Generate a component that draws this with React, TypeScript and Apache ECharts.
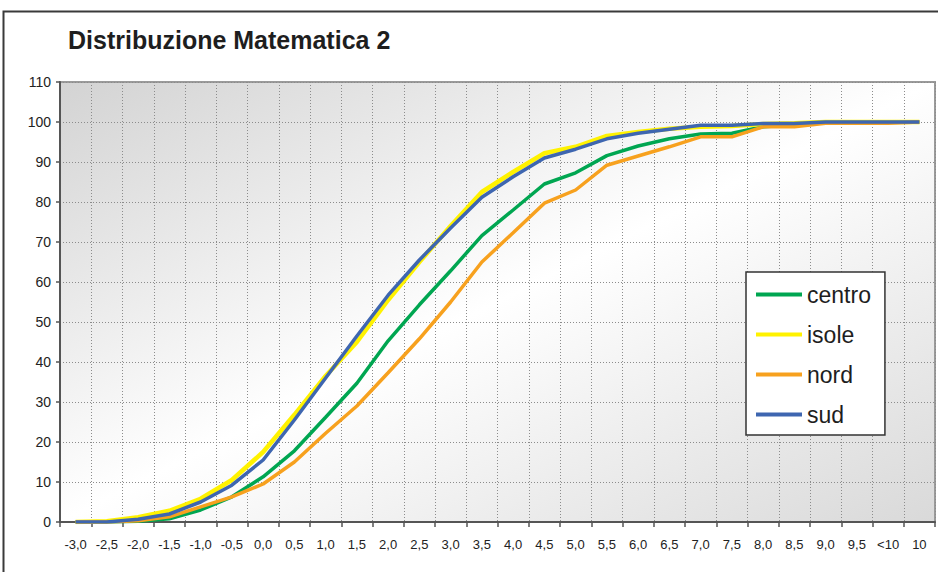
import React, { useEffect, useRef } from "react";
import * as echarts from "echarts";

const categories = ["-3,0","-2,5","-2,0","-1,5","-1,0","-0,5","0,0","0,5","1,0","1,5","2,0","2,5","3,0","3,5","4,0","4,5","5,0","5,5","6,0","6,5","7,0","7,5","8,0","8,5","9,0","9,5","<10","10"];

const centro = [0, 0, 0.2, 0.8, 3, 6.3, 11.3, 17.8, 26.2, 34.7, 45.3, 54.3, 62.8, 71.6, 78, 84.5, 87.3, 91.6, 94, 95.8, 97, 97.2, 98.8, 99.3, 99.8, 100, 100, 100];
const isole = [0, 0.2, 1.2, 2.8, 5.8, 10.5, 17.5, 26.8, 36.5, 45, 55.5, 65, 74, 82.5, 87.5, 92.2, 93.8, 96.5, 97.5, 98.3, 98.8, 99, 99.5, 99.7, 100, 100, 100, 100];
const nord = [0, 0, 0.3, 1.3, 3.8, 6.3, 9.5, 15, 22.2, 29, 37.3, 45.8, 55, 65, 72.3, 79.7, 83, 89.2, 91.5, 93.8, 96.3, 96.3, 98.8, 98.8, 99.7, 99.7, 99.7, 100];
const sud = [0, 0, 0.7, 2, 5, 9.2, 15.5, 25.5, 36, 46.5, 56.7, 65.5, 73.5, 81.2, 86.3, 91, 93.2, 95.8, 97.2, 98.2, 99.2, 99.2, 99.6, 99.6, 100, 100, 100, 100];

const seriesNames = ["centro", "isole", "nord", "sud"];
const seriesData = [centro, isole, nord, sud];
const seriesColors = ["#00A651", "#FFF200", "#F7A11E", "#3E66B0"];
const seriesWidths = [3.5, 4.5, 3.5, 3.5];

const FONT = "'Liberation Sans', Arial, sans-serif";

export default function App() {
  const ref = useRef<HTMLDivElement>(null);
  useEffect(() => {
    if (!ref.current) return;
    const chart = echarts.init(ref.current, undefined, { renderer: "svg" });
    chart.setOption({
      animation: false,
      backgroundColor: "#ffffff",
      textStyle: { fontFamily: FONT },
      graphic: [
        {
          type: "rect",
          z: 100,
          silent: true,
          shape: { x: 3.5, y: 11.5, width: 940, height: 620 },
          style: { fill: "none", stroke: "#3a3a3a", lineWidth: 2 },
        },
        {
          type: "text",
          left: 68,
          top: 27,
          style: {
            text: "Distribuzione Matematica 2",
            font: "bold 25px " + FONT,
            fill: "#1e1e1e",
          },
        },
      ],
      grid: {
        left: 60,
        right: 3,
        top: 82,
        bottom: 50,
        show: true,
        borderColor: "#9a9a9a",
        borderWidth: 2,
        backgroundColor: {
          type: "linear",
          x: 0,
          y: 0,
          x2: 1,
          y2: 1,
          colorStops: [
            { offset: 0, color: "#d3d3d3" },
            { offset: 0.5, color: "#ffffff" },
            { offset: 1, color: "#d9d9d9" },
          ],
        },
      },
      legend: {
        orient: "vertical",
        left: 746,
        top: 272,
        padding: [11, 14, 9, 10],
        itemGap: 17,
        itemWidth: 46,
        itemHeight: 4,
        icon: "rect",
        backgroundColor: "#ffffff",
        borderColor: "#333333",
        borderWidth: 1.5,
        textStyle: { fontSize: 23, color: "#1e1e1e", fontFamily: FONT },
        data: seriesNames,
      },
      xAxis: {
        type: "category",
        data: categories,
        boundaryGap: true,
        axisLine: { show: true, lineStyle: { color: "#555555", width: 2 } },
        axisTick: { show: true, length: 5, lineStyle: { color: "#555555", width: 1.5 } },
        axisLabel: { fontSize: 13, color: "#222222", margin: 16, fontFamily: FONT, interval: 0 },
        splitLine: { show: true, lineStyle: { color: "#8c8c8c", type: [1, 2], width: 1 } },
      },
      yAxis: {
        type: "value",
        min: 0,
        max: 110,
        interval: 10,
        axisLine: { show: true, lineStyle: { color: "#555555", width: 2 } },
        axisTick: { show: true, length: 4, lineStyle: { color: "#555555", width: 1.5 } },
        axisLabel: { fontSize: 14, color: "#222222", margin: 9, fontFamily: FONT },
        splitLine: { show: true, lineStyle: { color: "#8c8c8c", type: [1, 2], width: 1 } },
      },
      series: seriesNames.map((name, i) => ({
        name,
        type: "line",
        data: seriesData[i],
        showSymbol: false,
        symbol: "none",
        color: seriesColors[i],
        lineStyle: { color: seriesColors[i], width: seriesWidths[i] },
        z: 2 + i,
      })),
    });
    return () => chart.dispose();
  }, []);
  return (
    <div
      ref={ref}
      style={{ position: "fixed", left: 0, top: 0, width: 938, height: 572 }}
    />
  );
}
